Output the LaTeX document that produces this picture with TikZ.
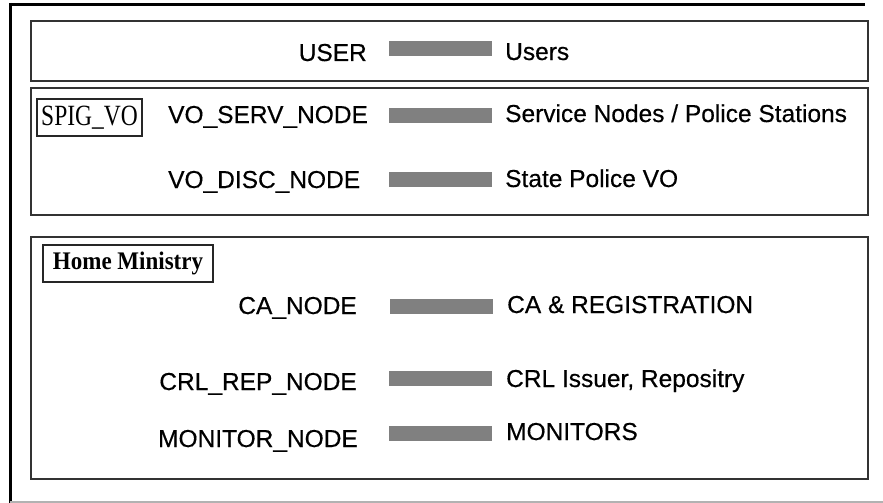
\documentclass[tikz,border=0pt]{standalone}
\usepackage{fontspec}
\setmainfont[FakeBold=0.4]{Liberation Sans}
\newfontfamily\timesface{Liberation Serif}
\tikzset{
  grp/.style={draw=black!80, line width=1.8pt},
  lbl/.style={inner sep=0pt, font=\fontsize{24.5}{28}\selectfont},
  bar/.style={fill=gray, draw=none, minimum width=103pt, minimum height=15pt, inner sep=0pt},
  tag/.style={draw=black!85, line width=1.5pt, inner sep=0pt, font=\timesface\fontsize{23.5}{28}\selectfont}
}
\begin{document}
\begin{tikzpicture}[x=1pt,y=-1pt]
\useasboundingbox (0,0) rectangle (883,503);
\fill[white] (0,0) rectangle (883,503);
% outer frame
\draw[line width=3.5pt] (9,4.5) -- (865,4.5);
\draw[line width=3pt] (10.5,3) -- (10.5,503);
\draw[gray!60, line width=1.2pt] (10,502) -- (883,502);
% group boxes
\draw[grp] (31,21) rectangle (868,81);
\draw[grp] (31,88) rectangle (868,215);
\draw[grp] (31,237) rectangle (868,479);
% tags
\node[tag, minimum width=105pt, minimum height=37pt] (spig) at (89.5,117.5) {\scalebox{1}[1.25]{SPIG\_VO}};
\node[tag, minimum width=170pt, minimum height=37pt, font=\timesface\bfseries\fontsize{23}{28}\selectfont] (home) at (128,263.5) {\scalebox{1}[1.1]{Home Ministry}};
% USER row
\node[lbl, anchor=base east] (user) at (367,61) {USER};
\node[bar] (ubar) at (440,48.5) {};
\node[lbl, anchor=base west] (users) at (505,60) {Users};
% VO_SERV row
\node[lbl, anchor=base west] (serv) at (168,123) {VO\_SERV\_NODE};
\node[bar] (sbar) at (440.5,115.5) {};
\node[lbl, anchor=base west] (servr) at (505,122) {Service Nodes / Police Stations};
% VO_DISC row
\node[lbl, anchor=base west] (disc) at (168,188) {VO\_DISC\_NODE};
\node[bar] (dbar) at (440.5,179.5) {};
\node[lbl, anchor=base west] (discr) at (505,187) {State Police VO};
% CA row
\node[lbl, anchor=base east] (ca) at (357,314) {CA\_NODE};
\node[bar] (cbar) at (441.5,306) {};
\node[lbl, anchor=base west] (car) at (507,313) {CA \& REGISTRATION};
% CRL row
\node[lbl, anchor=base east] (crl) at (357,390) {CRL\_REP\_NODE};
\node[bar] (rbar) at (440.5,378.5) {};
\node[lbl, anchor=base west] (crlr) at (506,387) {CRL Issuer, Repositry};
% MONITOR row
\node[lbl, anchor=base east] (mon) at (358,447) {MONITOR\_NODE};
\node[bar] (mbar) at (440.5,433.5) {};
\node[lbl, anchor=base west] (monr) at (506,440) {MONITORS};
\end{tikzpicture}
\end{document}
